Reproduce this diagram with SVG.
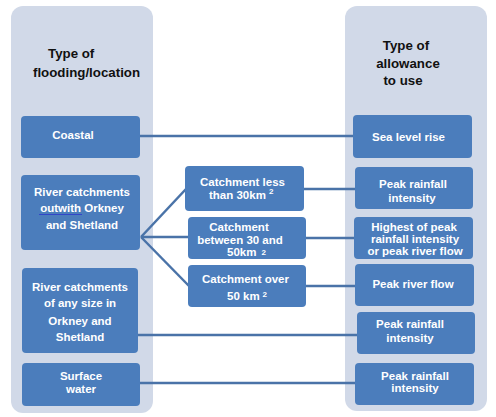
<svg xmlns="http://www.w3.org/2000/svg" width="496" height="417" viewBox="0 0 496 417">
<style>
.panel{fill:#d1d9e8}
.box{fill:#4b7dbc}
.t{font-family:"Liberation Sans",Arial,sans-serif;font-weight:bold;font-size:11.5px;fill:#ffffff;text-anchor:middle}
.ts{text-anchor:start}
.h{font-family:"Liberation Sans",Arial,sans-serif;font-weight:bold;font-size:13.3px;fill:#111111}
.sup{font-size:8px}
.c{stroke:#4a73a8;stroke-width:2.5;fill:none}
</style>
<rect width="496" height="417" fill="#ffffff"/>
<g id="panel-left">
<rect class="panel" x="11" y="6" width="142" height="407" rx="12"/>
<text class="h" x="48" y="58">Type of</text>
<text class="h" x="33" y="77">flooding/location</text>
</g>
<g id="panel-right">
<rect class="panel" x="345" y="6" width="142" height="405" rx="12"/>
<text class="h" x="406" y="50" text-anchor="middle">Type of</text>
<text class="h" x="408" y="68" text-anchor="middle">allowance</text>
<text class="h" x="403" y="85" text-anchor="middle">to use</text>
</g>
<g id="connectors">
<line class="c" x1="140" y1="136" x2="353" y2="136"/>
<line class="c" x1="141" y1="237" x2="186" y2="189"/>
<line class="c" x1="141" y1="237" x2="188" y2="237"/>
<line class="c" x1="141" y1="237" x2="189" y2="286"/>
<line class="c" x1="304" y1="189" x2="355" y2="189"/>
<line class="c" x1="306" y1="238" x2="354" y2="238"/>
<line class="c" x1="306" y1="286" x2="355" y2="286"/>
<line class="c" x1="138" y1="335" x2="357" y2="335"/>
<line class="c" x1="140" y1="383" x2="355" y2="383"/>
</g>
<g id="coastal">
<rect class="box" x="21" y="116" width="119" height="42" rx="4"/>
<text class="t" x="73" y="139">Coastal</text>
</g>
<g id="river-outwith">
<rect class="box" x="21" y="175" width="119" height="75" rx="4"/>
<text class="t" x="82" y="196">River catchments</text>
<text class="t" x="82" y="212">outwith Orkney</text>
<text class="t" x="82" y="229">and Shetland</text>
<line x1="39" y1="214.5" x2="82" y2="214.5" stroke="#3346c8" stroke-width="1"/>
</g>
<g id="river-any">
<rect class="box" x="22" y="268" width="116" height="85" rx="4"/>
<text class="t" x="80" y="291">River catchments</text>
<text class="t" x="80" y="307">of any size in</text>
<text class="t" x="80" y="325">Orkney and</text>
<text class="t" x="80" y="341">Shetland</text>
</g>
<g id="surface">
<rect class="box" x="22" y="363" width="118" height="43" rx="4"/>
<text class="t" x="81" y="380">Surface</text>
<text class="t" x="81" y="393">water</text>
</g>
<g id="catch-less">
<rect class="box" x="185" y="166" width="119" height="45" rx="4"/>
<text class="t" x="242.5" y="186">Catchment less</text>
<text class="t ts" x="209" y="199">than 30km<tspan class="sup" dx="3" dy="-5">2</tspan></text>
</g>
<g id="catch-between">
<rect class="box" x="188" y="217" width="118" height="42" rx="4"/>
<text class="t" x="239" y="231">Catchment</text>
<text class="t" x="240" y="244">between 30 and</text>
<text class="t ts" x="227" y="256">50km<tspan class="sup" dx="5" dy="-1">2</tspan></text>
</g>
<g id="catch-over">
<rect class="box" x="188" y="265" width="118" height="42" rx="4"/>
<text class="t" x="245.5" y="283">Catchment over</text>
<text class="t ts" x="227" y="300">50 km<tspan class="sup" dx="3" dy="-3">2</tspan></text>
</g>
<g id="sea-level">
<rect class="box" x="353" y="115" width="119" height="43" rx="4"/>
<text class="t" x="408.5" y="141">Sea level rise</text>
</g>
<g id="peak-rain-1">
<rect class="box" x="355" y="167" width="118" height="42" rx="4"/>
<text class="t" x="413" y="188">Peak rainfall</text>
<text class="t" x="412" y="202">intensity</text>
</g>
<g id="highest">
<rect class="box" x="354" y="217" width="119" height="42" rx="4"/>
<text class="t" x="414" y="231">Highest of peak</text>
<text class="t" x="415" y="243">rainfall intensity</text>
<text class="t" x="415" y="255">or peak river flow</text>
</g>
<g id="peak-river">
<rect class="box" x="355" y="264" width="119" height="42" rx="4"/>
<text class="t" x="413" y="288">Peak river flow</text>
</g>
<g id="peak-rain-2">
<rect class="box" x="357" y="312" width="118" height="42" rx="4"/>
<text class="t" x="410" y="328">Peak rainfall</text>
<text class="t" x="410" y="342">intensity</text>
</g>
<g id="peak-rain-3">
<rect class="box" x="355" y="363" width="119" height="42" rx="4"/>
<text class="t" x="415" y="380">Peak rainfall</text>
<text class="t" x="415" y="392">intensity</text>
</g>
</svg>
